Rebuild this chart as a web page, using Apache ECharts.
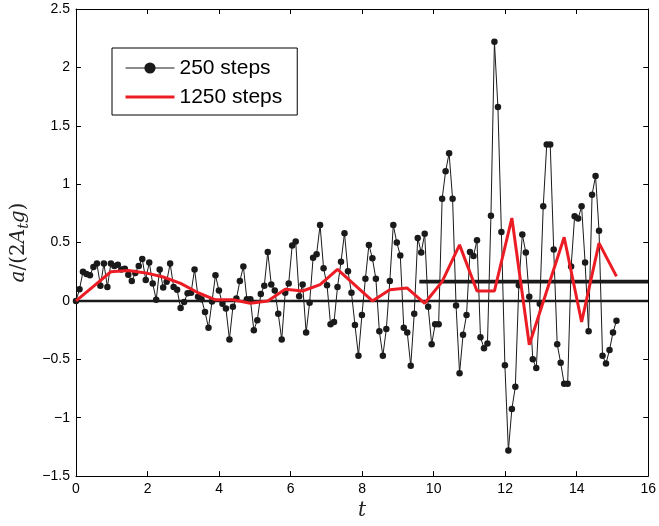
<!DOCTYPE html>
<html><head><meta charset="utf-8">
<script src="https://cdn.jsdelivr.net/npm/echarts@6/dist/echarts.min.js"></script>
<style>html,body{margin:0;padding:0;background:#fff}#c{width:659px;height:526px}</style>
</head><body><div id="c"></div>
<script>
// ---- data ----
const coarseName = '250 steps';
const fineName = '1250 steps';
const coarseStep = 0.0975;          // time step between plotted 250-step samples
const coarseValues = [
  0, 0.10, 0.25, 0.23, 0.22, 0.29, 0.32, 0.13, 0.32, 0.12,
  0.32, 0.30, 0.31, 0.27, 0.275, 0.225, 0.17, 0.24, 0.30, 0.36,
  0.18, 0.33, 0.15, 0.01, 0.27, 0.115, 0.165, 0.32, 0.12, 0.095,
  -0.06, -0.01, 0.065, 0.07, 0.27, 0.035, 0.015, -0.095, -0.23, -0.005,
  0.22, 0.09, -0.025, -0.065, -0.33, -0.05, 0.02, 0.17, 0.295, 0.015,
  0.015, -0.25, -0.165, 0.06, 0.13, 0.42, 0.14, 0.09, -0.11, -0.33,
  0.07, 0.15, 0.475, 0.51, 0.04, 0.14, -0.27, -0.015, 0.37, 0.40,
  0.65, 0.28, 0.135, -0.20, -0.18, 0.12, 0.335, 0.58, 0.255, 0.07,
  -0.205, -0.47, -0.12, 0.19, 0.48, 0.365, 0.19, -0.26, -0.47, -0.24,
  0.17, 0.65, 0.50, 0.39, -0.23, -0.27, -0.555, -0.11, 0.54, 0.415,
  0.575, -0.05, -0.37, -0.20, -0.20, 0.875, 1.11, 1.265, 0.875, -0.04,
  -0.62, -0.29, -0.12, 0.42, 0.385, 0.52, -0.31, -0.405, -0.365, 0.73,
  2.22, 1.66, 0.59, -0.55, -1.28, -0.925, -0.735, 0.135, 0.57, 0.415,
  0.035, -0.50, -0.575, -0.025, 0.81, 1.34, 1.34, 0.44, -0.37, -0.53,
  -0.71, -0.71, 0.295, 0.725, 0.705, 0.81, 0.33, -0.26, 0.91, 1.07,
  0.60, -0.47, -0.535, -0.42, -0.27, -0.17
];
const fineStride = 5;               // one 1250-step sample per 5 coarse samples
const fineValues = [
  0, 0.125, 0.25, 0.26, 0.24, 0.205, 0.15, 0.07, 0.01, 0.01,
  -0.02, 0.0, 0.10, 0.085, 0.14, 0.27, 0.135, 0.0, 0.095, 0.11,
  -0.02, 0.165, 0.48, 0.085, 0.085, 0.71, -0.375, 0.085, 0.545, -0.18,
  0.495, 0.21
];
const zeroLevel = 0;
const meanLevelValue = 0.165;
const meanLevelStart = 9.6;
const xTicks = [0, 2, 4, 6, 8, 10, 12, 14, 16];
const yTicks = [-1.5, -1, -0.5, 0, 0.5, 1, 1.5, 2, 2.5];

// ---- build ----
const xMin = xTicks[0], xMax = xTicks[xTicks.length - 1];
const yMin = yTicks[0], yMax = yTicks[yTicks.length - 1];
const coarseData = coarseValues.map((v, i) => [+(i * coarseStep).toFixed(4), v]);
const fineData = fineValues.map((v, i) => [+(i * coarseStep * fineStride).toFixed(4), v]);
const zeroData = [[xMin, zeroLevel], [xMax, zeroLevel]];
const meanData = [[meanLevelStart, meanLevelValue], [xMax, meanLevelValue]];

const tickFont = 'Liberation Sans, Arial, sans-serif';
const fmt = v => String(v).replace('-', '\u2212');
const axisCommon = {
  axisLine: { show: true, onZero: false, lineStyle: { color: '#000', width: 1 } },
  axisTick: { show: true, inside: true, length: 5, lineStyle: { color: '#000', width: 1 } },
  splitLine: { show: false }
};
const chart = echarts.init(document.getElementById('c'), null, { renderer: 'canvas' });
chart.setOption({
  animation: false,
  backgroundColor: '#fff',
  grid: { left: 76, right: 7, top: 9, bottom: 38, containLabel: false },
  legend: {
    data: [
      { name: coarseName, lineStyle: { width: 1 } },
      { name: fineName, itemStyle: { opacity: 0, borderWidth: 0 }, lineStyle: { width: 3 } }
    ],
    orient: 'vertical',
    left: 112, top: 48,
    padding: [9, 15, 7, 12],
    itemWidth: 49, itemHeight: 14, itemGap: 7,
    backgroundColor: '#fff',
    borderColor: '#000', borderWidth: 1,
    textStyle: { fontFamily: tickFont, fontSize: 21, color: '#000', lineHeight: 22 }
  },
  xAxis: [
    Object.assign({ type: 'value', min: xMin, max: xMax, interval: 2, position: 'bottom',
      name: 't', nameLocation: 'middle', nameGap: 22,
      nameTextStyle: { fontFamily: 'DejaVu Serif', fontStyle: 'italic', fontSize: 20, color: '#222' },
      axisLabel: { fontFamily: tickFont, fontSize: 14, color: '#000', margin: 6, formatter: fmt } }, axisCommon),
    Object.assign({ type: 'value', min: xMin, max: xMax, interval: 2, position: 'top',
      axisLabel: { show: false } }, axisCommon)
  ],
  yAxis: [
    Object.assign({ type: 'value', min: yMin, max: yMax, interval: 0.5, position: 'left',
      name: '{i|a}{r|/(2}{i|A}{s|t}{i|g}{r|)}', nameLocation: 'middle', nameRotate: 90, nameGap: 44,
      nameTextStyle: {
        color: '#222',
        rich: {
          i: { fontFamily: 'DejaVu Serif', fontStyle: 'italic', fontSize: 20, lineHeight: 26, color: '#222' },
          r: { fontFamily: 'DejaVu Serif', fontSize: 20, lineHeight: 26, color: '#222' },
          s: { fontFamily: 'DejaVu Serif', fontStyle: 'italic', fontSize: 14, lineHeight: 14, verticalAlign: 'bottom', color: '#222' }
        }
      },
      axisLabel: { fontFamily: tickFont, fontSize: 14, color: '#000', margin: 6, formatter: fmt } }, axisCommon),
    Object.assign({ type: 'value', min: yMin, max: yMax, interval: 0.5, position: 'right',
      axisLabel: { show: false } }, axisCommon)
  ],
  series: [
    { name: 'zero', type: 'line', data: zeroData, symbol: 'none', silent: true,
      lineStyle: { color: '#1a1a1a', width: 2.6 }, z: 1 },
    { name: 'mean', type: 'line', data: meanData, symbol: 'none', silent: true,
      lineStyle: { color: '#1a1a1a', width: 3.6 }, z: 1 },
    { name: coarseName, type: 'line', data: coarseData, symbol: 'circle', symbolSize: 6.5,
      itemStyle: { color: '#1a1a1a' }, lineStyle: { color: '#1a1a1a', width: 1 }, z: 2 },
    { name: fineName, type: 'line', data: fineData, symbol: 'none', showSymbol: false,
      itemStyle: { color: '#ec1c24' }, lineStyle: { color: '#ec1c24', width: 3 }, z: 3 }
  ]
});
</script></body></html>
